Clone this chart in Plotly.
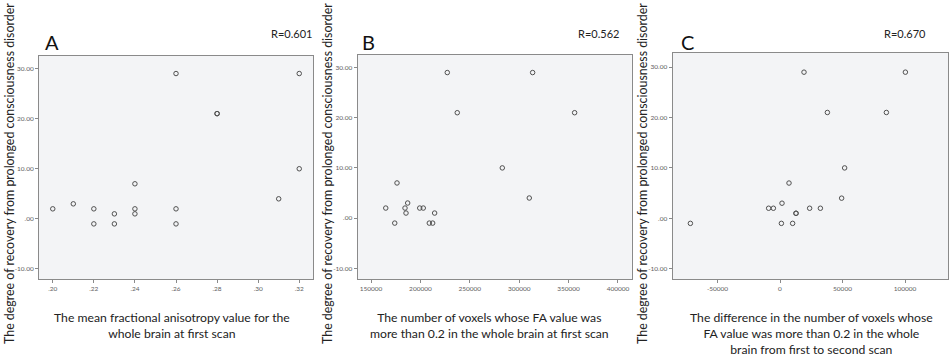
import plotly.graph_objects as go

# ---- data ----
recovery_a = [29, 29, 21, 21, 10, 4, 2, 3, 2, -1, 1, -1, 7, 2, 1, 2, -1]
mean_fa = [0.26, 0.32, 0.28, 0.28, 0.32, 0.31, 0.20, 0.21, 0.22, 0.22, 0.23, 0.23, 0.24, 0.24, 0.24, 0.26, 0.26]

recovery_b = [29, 29, 21, 21, 10, 4, 7, 2, 2, 3, 1, -1, 2, 2, 1, -1, -1]
voxels_first = [227200, 313600, 237300, 356100, 282900, 310200, 176300, 164900, 184400,
                187100, 185400, 174000, 199300, 202900, 214400, 209000, 212400]

recovery_c = [29, 29, 21, 21, 10, 7, 4, 2, 2, 3, 1, 1, 2, 2, -1, -1, -1]
voxel_diff = [19200, 100300, 37900, 85100, 51700, 7200, 49300, -9100, -5300, 1600,
              12800, 12800, 23700, 32300, -71700, 1100, 10100]

y_ticks = [30, 20, 10, 0, -10]
y_ticklabels = ["30.00", "20.00", "10.00", ".00", "-10.00"]
xa_ticks = [0.20, 0.22, 0.24, 0.26, 0.28, 0.30, 0.32]
xa_ticklabels = [".20", ".22", ".24", ".26", ".28", ".30", ".32"]
xb_ticks = [150000, 200000, 250000, 300000, 350000, 400000]
xb_ticklabels = ["150000", "200000", "250000", "300000", "350000", "400000"]
xc_ticks = [-50000, 0, 50000, 100000]
xc_ticklabels = ["-50000", "0", "50000", "100000"]

panel_letters = ["A", "B", "C"]
r_labels = ["R=0.601", "R=0.562", "R=0.670"]
x_titles = [
    "The mean fractional anisotropy value for the<br>whole brain at first scan",
    "The number of voxels whose FA value was<br>more than 0.2 in the whole brain at first scan",
    "The difference in the number of voxels whose<br>FA value was more than 0.2 in the whole<br>brain from first to second scan",
]
y_title = "The degree of recovery from prolonged consciousness disorder"

W, H = 950, 358
FONT = "Lato"

fig = go.Figure()
marker = dict(symbol="circle-open", size=4.5, color="#505050", line=dict(width=1))
fig.add_trace(go.Scatter(x=mean_fa, y=recovery_a, mode="markers", marker=marker,
                         xaxis="x", yaxis="y", showlegend=False))
fig.add_trace(go.Scatter(x=voxels_first, y=recovery_b, mode="markers", marker=marker,
                         xaxis="x2", yaxis="y2", showlegend=False))
fig.add_trace(go.Scatter(x=voxel_diff, y=recovery_c, mode="markers", marker=marker,
                         xaxis="x3", yaxis="y3", showlegend=False))

# plot boxes in pixels: (left, right, top, bottom)
boxes = [(39, 313, 56, 279), (357.5, 631.7, 55, 279.3), (672.5, 948, 52.5, 279.3)]
y_ranges = [[-12, 32.5], [-12.2, 32.5], [-12.1, 32.9]]
x_ranges = [[0.1933, 0.3267], [136300, 413900], [-86000, 134400]]
x_ticks_all = [(xa_ticks, xa_ticklabels), (xb_ticks, xb_ticklabels), (xc_ticks, xc_ticklabels)]

axis_common = dict(showgrid=False, zeroline=False, showline=True, mirror=True,
                   linecolor="#8a8a8a", linewidth=1, ticks="outside", ticklen=3,
                   tickcolor="#8a8a8a", tickfont=dict(size=6.5, color="#606060", family=FONT))

layout = dict(width=W, height=H, margin=dict(l=0, r=0, t=0, b=0),
              paper_bgcolor="white", plot_bgcolor="#f3f4f6", showlegend=False)
for i, (l, r, t, b) in enumerate(boxes):
    sx = "" if i == 0 else str(i + 1)
    xd = [l / W, r / W]
    yd = [1 - b / H, 1 - t / H]
    layout["xaxis" + sx] = dict(domain=xd, range=x_ranges[i], anchor="y" + sx,
                                tickvals=x_ticks_all[i][0], ticktext=x_ticks_all[i][1],
                                **axis_common)
    layout["yaxis" + sx] = dict(domain=yd, range=y_ranges[i], anchor="x" + sx,
                                tickvals=y_ticks, ticktext=y_ticklabels, **axis_common)
fig.update_layout(**layout)

annotations = []
letter_pos = [(52, 42), (368, 42), (687, 42)]
r_pos = [(291, 33), (598, 33), (905, 33)]
ytitle_x = [9, 327, 642]
xtitle_pos = [(172, 316), (489, 316), (811, 316)]
for i in range(3):
    annotations.append(dict(text=panel_letters[i], x=letter_pos[i][0] / W, y=1 - letter_pos[i][1] / H,
                            xref="paper", yref="paper", showarrow=False,
                            font=dict(size=20, color="#111", family=FONT),
                            xanchor="center", yanchor="middle"))
    annotations.append(dict(text=r_labels[i], x=r_pos[i][0] / W, y=1 - r_pos[i][1] / H,
                            xref="paper", yref="paper", showarrow=False,
                            font=dict(size=11, color="#222", family=FONT),
                            xanchor="center", yanchor="middle"))
    annotations.append(dict(text=y_title, x=ytitle_x[i] / W, y=1 - 174 / H,
                            xref="paper", yref="paper", showarrow=False, textangle=-90,
                            font=dict(size=12.4, color="#222", family=FONT),
                            xanchor="center", yanchor="middle"))
    annotations.append(dict(text=x_titles[i], x=xtitle_pos[i][0] / W, y=1 - (xtitle_pos[i][1] - 8) / H,
                            xref="paper", yref="paper", showarrow=False,
                            font=dict(size=12.2, color="#222", family=FONT),
                            xanchor="center", yanchor="top", align="center"))
fig.update_layout(annotations=annotations)

fig.write_html("out.html", config={"displayModeBar": False},
               post_script="document.body.style.margin='0';document.body.style.overflow='hidden';")
